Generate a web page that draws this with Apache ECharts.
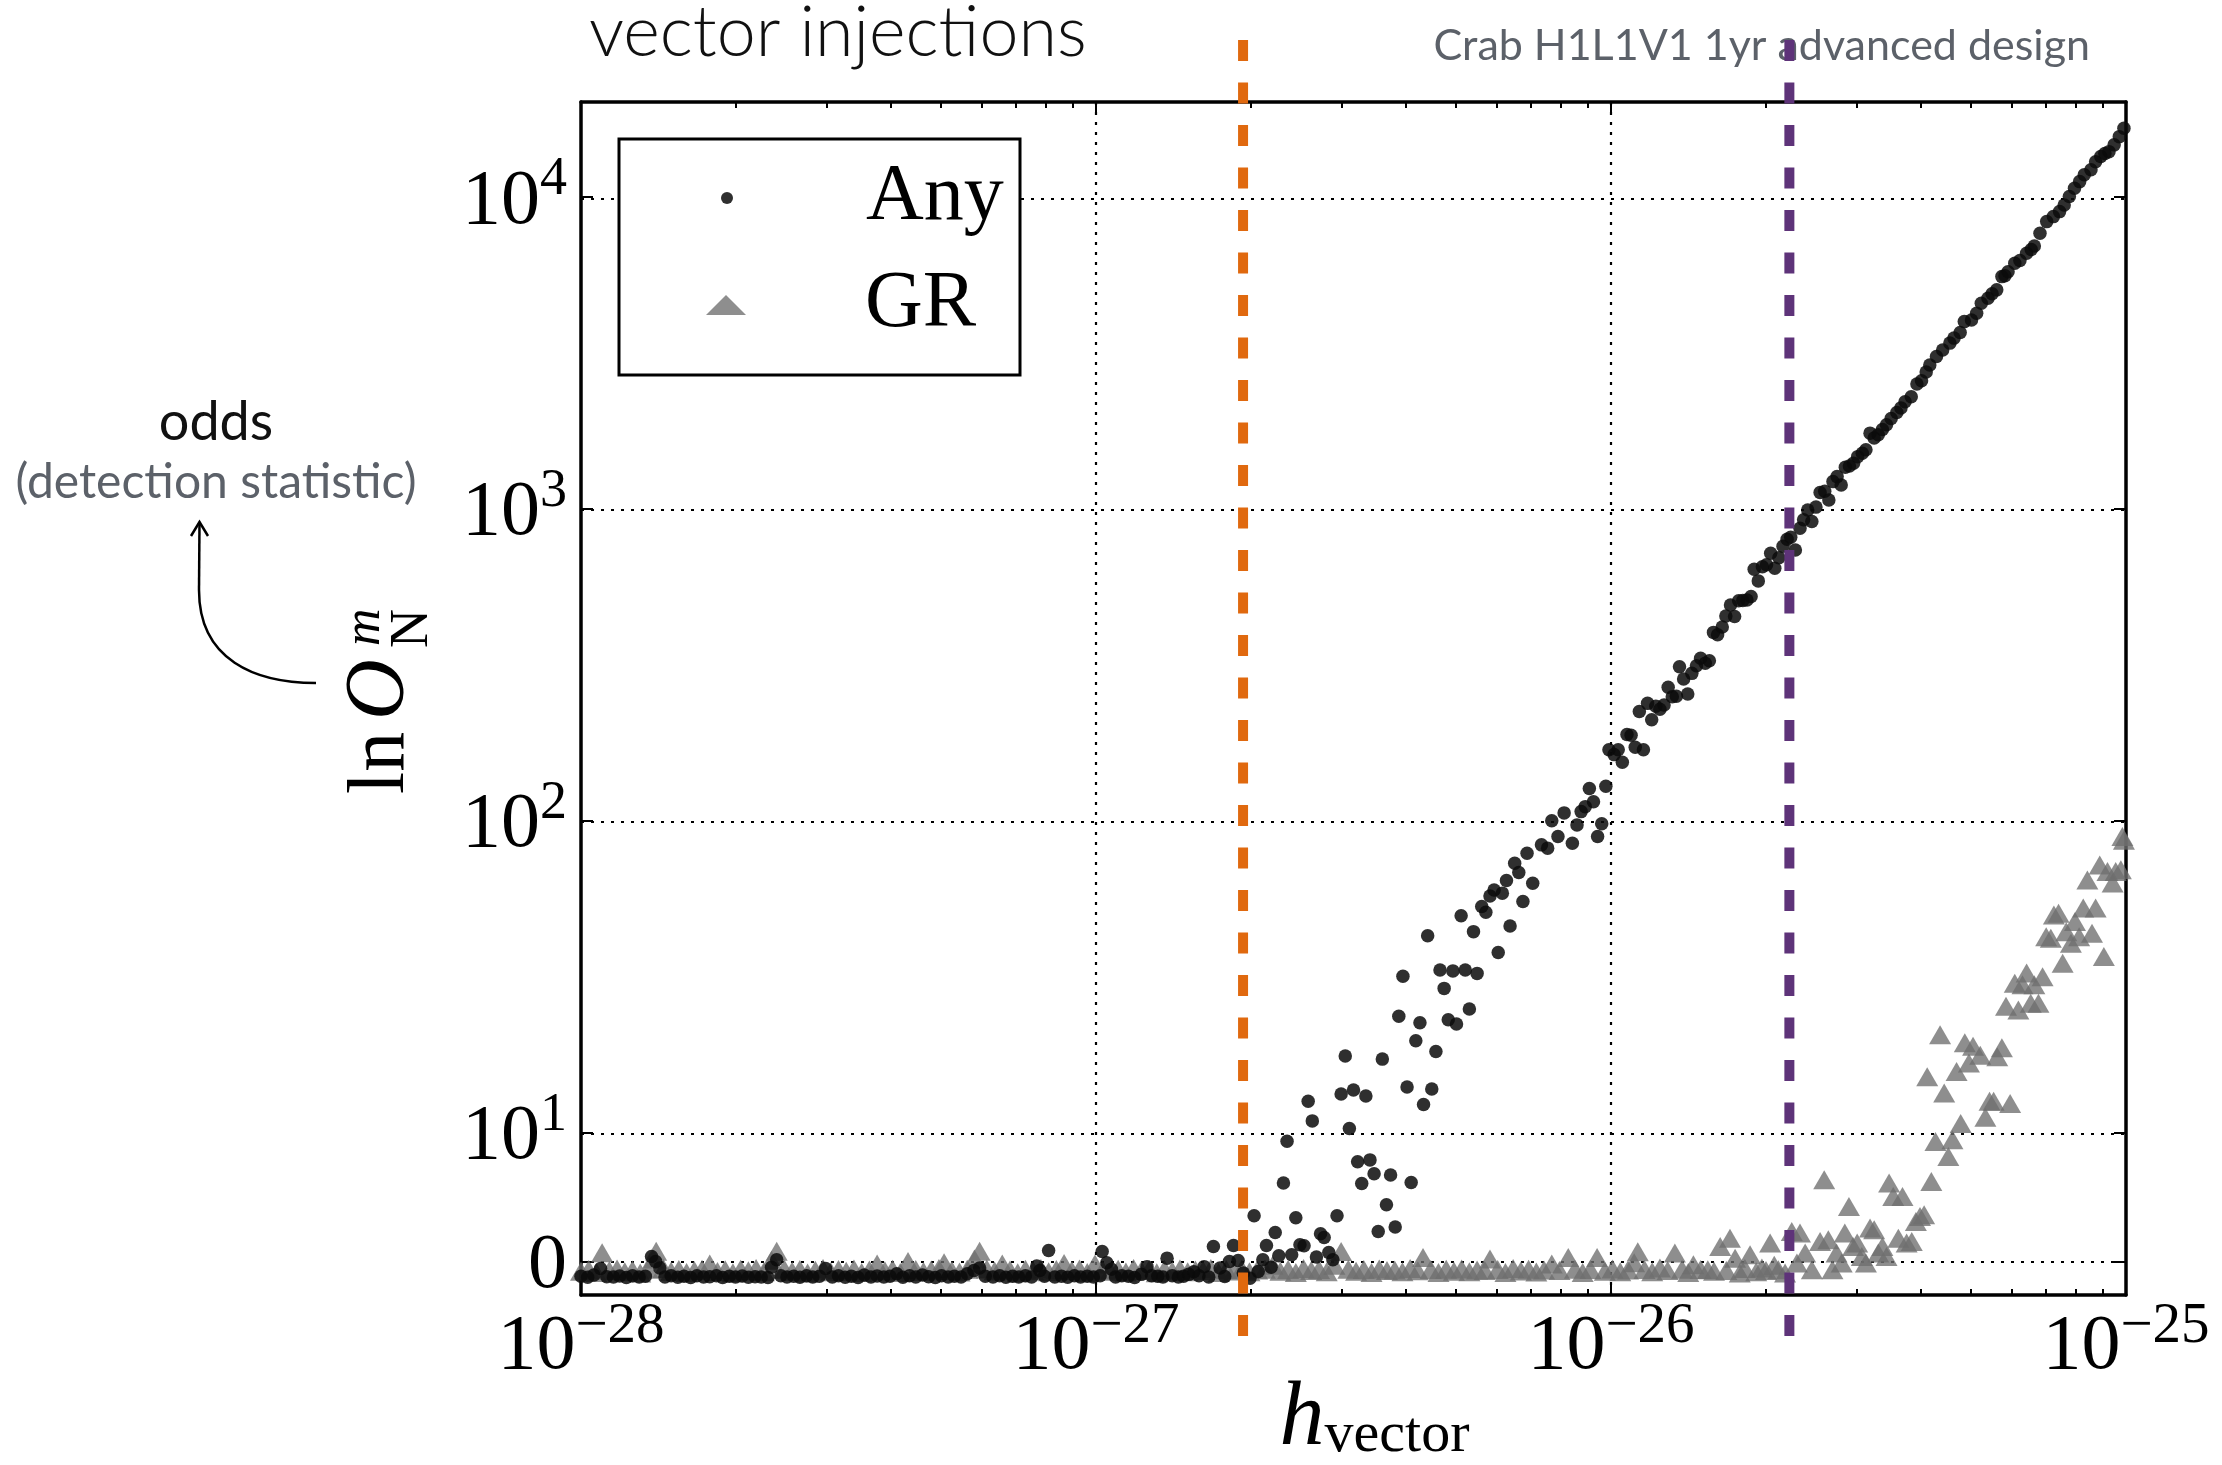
<!DOCTYPE html>
<html>
<head>
<meta charset="utf-8">
<title>vector injections</title>
<script src="https://cdn.jsdelivr.net/npm/echarts@6/dist/echarts.min.js"></script>
<style>
  html, body { margin: 0; padding: 0; background: #ffffff; }
  #chart { width: 2222px; height: 1465px; }
</style>
</head>
<body>
<div id="chart"></div>
<script>
// ---------------------------------------------------------------------------
// Data: each injection is [log10 h_vector, ln O_N^m]
// ---------------------------------------------------------------------------
const anyInjections = [
  [-28.000,-1.15],[-27.987,-1.22],[-27.975,-1.05],[-27.962,-0.55],[-27.950,-1.18],[-27.937,-1.20],
  [-27.925,-1.12],[-27.912,-1.25],[-27.900,-1.10],[-27.887,-1.20],[-27.875,-1.15],[-27.863,0.39],
  [-27.855,0.00],[-27.847,-0.50],[-27.837,-1.20],[-27.825,-1.10],[-27.812,-1.22],[-27.800,-1.15],
  [-27.787,-1.25],[-27.775,-1.10],[-27.762,-1.20],[-27.750,-1.18],[-27.737,-1.10],[-27.725,-1.25],
  [-27.712,-1.15],[-27.700,-1.20],[-27.687,-1.12],[-27.675,-1.22],[-27.662,-1.18],[-27.650,-1.20],
  [-27.637,-1.25],[-27.630,-0.45],[-27.620,0.13],[-27.612,-1.10],[-27.600,-1.20],[-27.587,-1.15],
  [-27.575,-1.22],[-27.562,-1.10],[-27.550,-1.20],[-27.537,-1.15],[-27.525,-0.55],[-27.512,-1.20],
  [-27.500,-1.10],[-27.487,-1.22],[-27.475,-1.15],[-27.462,-1.25],[-27.450,-1.05],[-27.437,-1.20],
  [-27.425,-1.12],[-27.412,-1.20],[-27.400,-1.15],[-27.387,-0.95],[-27.375,-1.22],[-27.362,-1.10],
  [-27.350,-1.20],[-27.337,-1.05],[-27.325,-1.18],[-27.312,-1.25],[-27.300,-1.10],[-27.287,-1.20],
  [-27.275,-1.15],[-27.262,-1.20],[-27.250,-0.95],[-27.237,-0.70],[-27.226,-0.50],[-27.215,-1.15],
  [-27.200,-1.20],[-27.187,-1.10],[-27.175,-1.22],[-27.162,-1.15],[-27.150,-1.20],[-27.137,-1.10],
  [-27.125,-1.20],[-27.115,-0.35],[-27.109,-0.70],[-27.100,-1.15],[-27.092,0.85],[-27.080,-1.20],
  [-27.067,-1.15],[-27.055,-1.22],[-27.042,-1.10],[-27.030,-1.20],[-27.017,-1.15],[-27.005,-1.20],
  [-26.992,-1.10],[-26.988,0.78],[-26.979,-0.10],[-26.970,-0.60],[-26.962,-1.20],[-26.950,-1.10],
  [-26.937,-1.15],[-26.925,-1.25],[-26.912,-1.00],[-26.901,-0.40],[-26.892,-1.10],[-26.880,-1.15],
  [-26.870,-1.20],[-26.862,0.26],[-26.852,-1.10],[-26.840,-1.20],[-26.830,-1.15],[-26.820,-1.00],
  [-26.810,-0.80],[-26.800,-1.10],[-26.790,-0.40],[-26.781,-1.20],[-26.772,1.16],[-26.759,-0.50],
  [-26.750,-1.16],[-26.741,0.00],[-26.733,1.24],[-26.724,0.08],[-26.714,-0.90],[-26.701,-1.30],
  [-26.693,3.54],[-26.685,-0.77],[-26.676,0.13],[-26.669,1.24],[-26.660,-0.44],[-26.652,2.25],
  [-26.645,0.44],[-26.636,6.08],[-26.629,9.33],[-26.620,0.52],[-26.612,3.39],[-26.604,1.29],
  [-26.596,1.22],[-26.588,12.6],[-26.580,10.9],[-26.572,0.34],[-26.564,2.15],[-26.557,1.86],
  [-26.548,0.70],[-26.540,0.13],[-26.532,3.54],[-26.524,13.3],[-26.516,17.6],[-26.508,10.3],
  [-26.500,13.7],[-26.492,7.73],[-26.484,6.05],[-26.476,13.1],[-26.468,7.88],[-26.460,6.80],
  [-26.452,2.33],[-26.444,17.2],[-26.436,4.40],[-26.428,6.70],[-26.419,2.67],[-26.412,23.6],
  [-26.404,31.7],[-26.396,14.0],[-26.388,6.12],[-26.379,19.7],[-26.371,22.5],[-26.364,12.3],
  [-26.356,42.8],[-26.348,13.8],[-26.340,18.2],[-26.332,33.2],[-26.324,29.0],[-26.316,23.0],
  [-26.307,33.0],[-26.300,22.3],[-26.291,49.6],[-26.283,33.2],[-26.275,24.9],[-26.267,44.1],
  [-26.260,32.4],[-26.251,53.1],[-26.243,50.9],[-26.235,57.4],[-26.227,60.0],[-26.219,37.8],
  [-26.211,58.6],[-26.203,64.3],[-26.196,46.0],[-26.187,73.1],[-26.179,68.2],[-26.171,55.1],
  [-26.163,78.7],[-26.152,63.0],[-26.135,83.7],[-26.123,81.7],[-26.115,100],[-26.103,89.0],
  [-26.091,106],[-26.075,84.7],[-26.066,97.0],[-26.058,107],[-26.050,111],[-26.042,127],
  [-26.034,115],[-26.026,89.0],[-26.018,97.8],[-26.010,129],[-26.004,169],[-25.994,163],
  [-25.986,169],[-25.978,154],[-25.969,189],[-25.961,188],[-25.953,172],[-25.945,224],
  [-25.937,169],[-25.929,238],[-25.921,211],[-25.913,233],[-25.905,228],[-25.897,235],
  [-25.889,268],[-25.881,250],[-25.873,251],[-25.867,312],[-25.859,285],[-25.851,255],
  [-25.843,297],[-25.834,314],[-25.826,332],[-25.817,320],[-25.809,326],[-25.801,402],
  [-25.793,395],[-25.784,418],[-25.777,454],[-25.768,492],[-25.760,452],[-25.752,508],
  [-25.744,509],[-25.736,511],[-25.728,524],[-25.722,641],[-25.714,588],[-25.706,653],
  [-25.698,662],[-25.690,721],[-25.682,646],[-25.674,698],[-25.666,760],[-25.658,800],
  [-25.651,812],[-25.642,739],[-25.633,867],[-25.626,923],[-25.618,993],[-25.610,912],
  [-25.602,1014],[-25.594,1130],[-25.585,1140],[-25.577,1069],[-25.569,1224],[-25.561,1270],
  [-25.553,1194],[-25.545,1361],[-25.537,1374],[-25.529,1403],[-25.521,1472],[-25.512,1510],
  [-25.505,1548],[-25.497,1751],[-25.489,1690],[-25.481,1729],[-25.473,1800],[-25.465,1862],
  [-25.456,1950],[-25.445,2039],[-25.437,2110],[-25.429,2209],[-25.417,2292],[-25.406,2518],
  [-25.397,2580],[-25.388,2750],[-25.381,2897],[-25.368,3082],[-25.356,3236],[-25.342,3404],
  [-25.334,3532],[-25.322,3681],[-25.314,3990],[-25.300,4040],[-25.290,4246],[-25.281,4571],
  [-25.268,4742],[-25.260,4900],[-25.251,5044],[-25.241,5563],[-25.235,5600],[-25.229,5768],
  [-25.216,6138],[-25.206,6266],[-25.193,6611],[-25.184,6800],[-25.178,6977],[-25.167,7661],
  [-25.154,8350],[-25.141,8665],[-25.129,8991],[-25.120,9444],[-25.110,10045],[-25.100,10690],
  [-25.090,11220],[-25.081,11800],[-25.068,12240],[-25.059,13000],[-25.049,13500],[-25.041,13800],
  [-25.033,14000],[-25.023,14720],[-25.013,15640],[-25.004,16640]
];

const grInjections = [
  [-28.000,-0.75],[-27.985,-0.62],[-27.970,-0.85],[-27.959,0.67],[-27.945,-0.70],[-27.930,-0.58],
  [-27.915,-0.80],[-27.900,-0.66],[-27.885,-0.90],[-27.870,-0.60],[-27.860,0.20],[-27.854,0.80],
  [-27.840,-0.55],[-27.825,-0.75],[-27.810,-0.62],[-27.795,-0.85],[-27.780,-0.70],[-27.765,-0.60],
  [-27.750,-0.20],[-27.735,-0.78],[-27.720,-0.65],[-27.705,-0.88],[-27.690,-0.60],[-27.675,-0.72],
  [-27.660,-0.55],[-27.645,-0.80],[-27.630,0.10],[-27.620,0.80],[-27.605,-0.60],[-27.590,-0.75],
  [-27.575,-0.62],[-27.560,-0.90],[-27.545,-0.68],[-27.530,-0.55],[-27.515,-0.80],[-27.500,-0.62],
  [-27.485,-0.75],[-27.470,-0.58],[-27.455,-0.85],[-27.440,-0.66],[-27.425,-0.20],[-27.410,-0.72],
  [-27.395,-0.60],[-27.380,-0.85],[-27.365,0.00],[-27.350,-0.62],[-27.335,-0.78],[-27.320,-0.66],
  [-27.305,-0.55],[-27.295,-0.10],[-27.280,-0.70],[-27.265,-0.82],[-27.250,-0.60],[-27.236,0.20],
  [-27.226,0.80],[-27.212,-0.58],[-27.197,-0.74],[-27.182,-0.20],[-27.167,-0.66],[-27.152,-0.88],
  [-27.137,-0.60],[-27.122,-0.72],[-27.107,-0.55],[-27.092,-0.80],[-27.077,-0.62],[-27.062,-0.15],
  [-27.047,-0.70],[-27.032,-0.58],[-27.017,-0.85],[-27.002,-0.20],[-26.987,-0.66],[-26.972,-0.75],
  [-26.957,-0.60],[-26.942,-0.82],[-26.927,-0.55],[-26.912,-0.70],[-26.897,-0.62],[-26.882,-0.88],
  [-26.867,-0.60],[-26.852,-0.74],[-26.837,-0.58],[-26.822,-0.80],[-26.807,-0.66],[-26.792,-0.70],
  [-26.777,-0.55],[-26.762,-0.85],[-26.747,-0.62],[-26.732,-0.74],[-26.717,-0.58],[-26.702,-0.80],
  [-26.687,-0.66],[-26.672,-0.60],[-26.657,-0.30],[-26.642,-0.75],[-26.627,-0.62],[-26.612,-0.85],
  [-26.597,-0.55],[-26.582,-0.70],[-26.567,-0.62],[-26.552,-0.80],[-26.537,-0.30],[-26.524,0.78],
  [-26.510,-0.60],[-26.495,-0.75],[-26.480,-0.62],[-26.465,-0.85],[-26.450,-0.58],[-26.435,-0.70],
  [-26.420,-0.66],[-26.405,-0.80],[-26.390,-0.55],[-26.375,-0.72],[-26.365,0.30],[-26.350,-0.62],
  [-26.335,-0.85],[-26.320,-0.60],[-26.305,-0.75],[-26.290,-0.58],[-26.275,-0.80],[-26.260,-0.66],
  [-26.245,-0.70],[-26.235,0.20],[-26.220,-0.62],[-26.205,-0.85],[-26.190,-0.55],[-26.175,-0.74],
  [-26.160,-0.60],[-26.145,-0.82],[-26.130,-0.66],[-26.115,-0.20],[-26.100,-0.70],[-26.083,0.30],
  [-26.070,-0.60],[-26.055,-0.85],[-26.040,-0.62],[-26.027,0.30],[-26.012,-0.75],[-25.997,-0.58],
  [-25.982,-0.80],[-25.967,-0.66],[-25.955,-0.10],[-25.948,0.75],[-25.935,-0.62],[-25.920,-0.80],
  [-25.905,-0.50],[-25.890,-0.70],[-25.876,0.65],[-25.862,-0.60],[-25.850,-0.85],[-25.840,-0.26],
  [-25.826,-0.62],[-25.812,-0.64],[-25.800,-0.75],[-25.788,1.16],[-25.776,-0.70],[-25.769,1.80],
  [-25.759,0.26],[-25.750,-0.90],[-25.740,-0.55],[-25.730,0.52],[-25.718,-0.80],[-25.707,-0.50],
  [-25.699,-0.70],[-25.691,1.43],[-25.683,-0.30],[-25.675,-0.64],[-25.662,-0.90],[-25.649,2.33],
  [-25.639,-0.12],[-25.633,2.20],[-25.623,0.65],[-25.610,-0.64],[-25.594,1.55],[-25.586,6.33],
  [-25.578,1.68],[-25.570,-0.64],[-25.562,0.65],[-25.552,-0.12],[-25.546,2.20],[-25.538,4.26],
  [-25.530,1.16],[-25.522,1.43],[-25.513,0.39],[-25.505,-0.12],[-25.497,2.59],[-25.489,2.46],
  [-25.481,0.65],[-25.473,1.16],[-25.465,0.39],[-25.460,6.08],[-25.452,5.04],[-25.442,1.81],
  [-25.434,5.04],[-25.426,1.43],[-25.416,1.55],[-25.408,3.10],[-25.400,3.49],[-25.392,3.62],
  [-25.386,15.1],[-25.378,6.20],[-25.370,9.30],[-25.361,20.6],[-25.353,13.4],[-25.345,8.14],
  [-25.337,9.44],[-25.329,15.7],[-25.321,10.7],[-25.313,19.4],[-25.305,16.7],[-25.297,18.9],
  [-25.283,17.7],[-25.273,11.2],[-25.265,12.6],[-25.257,12.6],[-25.250,17.5],[-25.241,18.7],
  [-25.233,25.4],[-25.225,12.4],[-25.216,30.1],[-25.209,24.7],[-25.201,29.8],[-25.193,32.5],
  [-25.185,26.0],[-25.178,29.8],[-25.170,26.0],[-25.162,31.6],[-25.155,42.5],[-25.146,42.0],
  [-25.140,49.9],[-25.131,50.5],[-25.123,34.9],[-25.116,44.1],[-25.107,40.5],[-25.099,47.5],
  [-25.091,42.5],[-25.083,52.5],[-25.075,64.6],[-25.066,43.6],[-25.059,52.5],[-25.051,72.2],
  [-25.043,36.7],[-25.036,68.7],[-25.026,63.1],[-25.020,68.7],[-25.010,69.6],[-25.007,89.0],
  [-25.004,86.6]
];

// Axis ranges and tick values
const hRange = [1e-28, 1e-25];
const oddsRange = [-2.6, 2.02e4];
const hTicks = [1e-28, 1e-27, 1e-26, 1e-25];
const oddsTicks = [0, 10, 100, 1000, 10000];

// Vertical reference amplitudes (orange, purple)
const referenceH = [1.93e-27, 2.22e-26];

// ---------------------------------------------------------------------------
// Axis mappings: x is drawn in log10(h); odds use a symmetric log
// (linear on [-10, 10], log10 beyond)
// ---------------------------------------------------------------------------
const LIN_DECADES = 0.4135;
function symlog(v) {
  const a = Math.abs(v), s = v < 0 ? -1 : 1;
  return a <= 10 ? (v / 10) * LIN_DECADES : s * (LIN_DECADES + Math.log10(a / 10));
}
const lg = Math.log10;

const SERIF = '"Liberation Serif", "DejaVu Serif", serif';
const SANS = 'Lato, "Open Sans", sans-serif';

const xMin = lg(hRange[0]), xMax = lg(hRange[1]);
const minorX = [];
hTicks.slice(0, -1).forEach(d => { for (let m = 2; m <= 9; m++) minorX.push(lg(m * d)); });

const oddsTickPos = oddsTicks.map(symlog);
const tMin = symlog(oddsRange[0]);
const tMax = symlog(oddsRange[1]);

const labelRich = {
  b: { fontFamily: SERIF, fontSize: 78, lineHeight: 88, verticalAlign: 'bottom', color: '#000' },
  s: { fontFamily: SERIF, fontSize: 54, lineHeight: 44, verticalAlign: 'top', color: '#000' },
  n: { fontFamily: SERIF, fontSize: 57, lineHeight: 44, verticalAlign: 'top', color: '#000' }
};

function hLabel(x) {
  const e = Math.round(x);
  return '{b|10}{n|' + (e < 0 ? '\u2212' + (-e) : String(e)) + '}';
}
function oddsLabel(t) {
  let best = 0;
  oddsTickPos.forEach((p, i) => { if (Math.abs(p - t) < Math.abs(oddsTickPos[best] - t)) best = i; });
  const v = oddsTicks[best];
  return v === 0 ? '{b|0}' : '{b|10}{s|' + Math.round(lg(v)) + '}';
}

const frameLine = { show: true, onZero: false, lineStyle: { color: '#000', width: 3.5 } };
const majorTick = { show: true, inside: true, length: 12, lineStyle: { color: '#000', width: 2 } };
const minorTickStyle = { show: true, inside: true, length: 6, lineStyle: { color: '#000', width: 2 } };
const gridDots = { color: '#000', width: 2.2, type: [3, 7] };

// vertical extent of the reference lines (they run past the frame)
const T_LINE_TOP = 3.918, T_LINE_BOTTOM = -0.2415;

function refLine(name, h, color) {
  return {
    name: name, type: 'line', xAxisIndex: 0, yAxisIndex: 0, clip: false, silent: true,
    symbol: 'none', z: 6,
    lineStyle: { color: color, width: 10, type: [21, 21.5] },
    data: [[lg(h), T_LINE_TOP], [lg(h), T_LINE_BOTTOM]]
  };
}

const chart = echarts.init(document.getElementById('chart'), null, { renderer: 'canvas' });

chart.setOption({
  animation: false,
  backgroundColor: '#ffffff',
  textStyle: { fontFamily: SERIF },
  title: {
    text: 'vector injections',
    left: 589, top: -2, padding: 0,
    textStyle: { fontFamily: SANS, fontSize: 70, fontWeight: 300, color: '#111', lineHeight: 70 }
  },
  grid: { left: 581, right: 96, top: 102, bottom: 170, containLabel: false, outerBoundsMode: 'none' },
  legend: [
    {
      data: ['Any'], left: 721, top: 151, orient: 'vertical', padding: 0, itemGap: 0,
      itemWidth: 40, itemHeight: 12, icon: 'circle', selectedMode: false, z: 10,
      textStyle: { fontFamily: SERIF, fontSize: 80, color: '#000', lineHeight: 80, padding: [14, 0, 0, 114] }
    },
    {
      data: ['GR'], left: 706, top: 261, orient: 'vertical', padding: 0, itemGap: 0,
      itemWidth: 40, itemHeight: 20, icon: 'triangle', selectedMode: false, z: 10,
      textStyle: { fontFamily: SERIF, fontSize: 80, color: '#000', lineHeight: 80, padding: [8, 0, 0, 114] }
    }
  ],
  xAxis: [
    {
      type: 'value', min: xMin, max: xMax, interval: 1, position: 'bottom',
      axisLine: frameLine, axisTick: majorTick,
      axisLabel: { formatter: hLabel, margin: 4, rich: labelRich },
      splitLine: { show: false },
      name: '{h|h}{v|vector}', nameLocation: 'middle', nameGap: 80, nameMoveOverlap: false,
      nameTextStyle: {
        padding: [0, 0, 0, 42],
        rich: {
          h: { fontFamily: SERIF, fontStyle: 'italic', fontSize: 90, lineHeight: 90, verticalAlign: 'bottom', color: '#000' },
          v: { fontFamily: SERIF, fontSize: 58, lineHeight: 46, verticalAlign: 'bottom', color: '#000' }
        }
      }
    },
    {
      type: 'value', min: xMin, max: xMax, interval: 1, position: 'top',
      axisLine: frameLine, axisTick: majorTick,
      axisLabel: { show: false }, splitLine: { show: false }
    },
    {
      type: 'value', min: xMin, max: xMax, position: 'bottom',
      axisLine: { show: false, onZero: false },
      axisTick: Object.assign({ customValues: minorX }, minorTickStyle),
      axisLabel: { show: false }, splitLine: { show: false }
    },
    {
      type: 'value', min: xMin, max: xMax, position: 'top',
      axisLine: { show: false, onZero: false },
      axisTick: Object.assign({ customValues: minorX }, minorTickStyle),
      axisLabel: { show: false }, splitLine: { show: false }
    }
  ],
  yAxis: [
    {
      type: 'value', min: tMin, max: tMax, position: 'left',
      axisLine: frameLine,
      axisTick: Object.assign({ customValues: oddsTickPos }, majorTick),
      axisLabel: { customValues: oddsTickPos, formatter: oddsLabel, margin: 14, rich: labelRich },
      splitLine: { show: false }
    },
    {
      type: 'value', min: tMin, max: tMax, position: 'right',
      axisLine: frameLine,
      axisTick: Object.assign({ customValues: oddsTickPos }, majorTick),
      axisLabel: { show: false }, splitLine: { show: false }
    }
  ],
  series: [
    {
      name: 'GR', type: 'scatter', xAxisIndex: 0, yAxisIndex: 0,
      symbol: 'triangle', symbolSize: [22, 19], z: 3, silent: true,
      itemStyle: { color: '#6e6e6e', opacity: 0.78 },
      data: grInjections.map(([lh, o]) => [lh, symlog(o)]),
      markLine: {
        z: 1, silent: true, symbol: 'none', animation: false,
        label: { show: false }, lineStyle: gridDots, emphasis: { disabled: true },
        data: oddsTicks.map(v => ({ yAxis: symlog(v) }))
          .concat(hTicks.slice(1, -1).map(h => ({ xAxis: lg(h) })))
      }
    },
    {
      name: 'Any', type: 'scatter', xAxisIndex: 0, yAxisIndex: 0,
      symbol: 'circle', symbolSize: 13.5, z: 4, silent: true,
      itemStyle: { color: '#0a0a0a', opacity: 0.85 },
      data: anyInjections.map(([lh, o]) => [lh, symlog(o)])
    },
    refLine('threshold', referenceH[0], '#e0690f'),
    refLine('design', referenceH[1], '#5e3379')
  ],
  graphic: [
    // legend frame
    { type: 'rect', z: 2, shape: { x: 619, y: 139, width: 401, height: 236 },
      style: { fill: '#ffffff', stroke: '#000', lineWidth: 3 }, silent: true },
    // rotated y-axis title: ln O_N^m
    { type: 'group', x: 409, y: 794, rotation: Math.PI / 2, silent: true, children: [
      { type: 'text', x: 0, y: -27, style: { text: 'ln', fontFamily: SERIF, fontSize: 80, fill: '#000', verticalAlign: 'middle' } },
      { type: 'text', x: 74, y: -28, style: { text: 'O', fontFamily: SERIF, fontStyle: 'italic', fontSize: 84, fill: '#000', verticalAlign: 'middle' } },
      { type: 'text', x: 148, y: -44, style: { text: 'm', fontFamily: SERIF, fontStyle: 'italic', fontSize: 52, fill: '#000', verticalAlign: 'middle' } },
      { type: 'text', x: 146, y: 4, style: { text: 'N', fontFamily: SERIF, fontSize: 54, fill: '#000', verticalAlign: 'middle' } }
    ] },
    // annotation: odds (detection statistic) with curved arrow
    { type: 'text', x: 216, y: 423, silent: true,
      style: { text: 'odds', fontFamily: SANS, fontSize: 54, fill: '#111', align: 'center', verticalAlign: 'middle' } },
    { type: 'text', x: 216, y: 483, silent: true,
      style: { text: '(detection statistic)', fontFamily: SANS, fontSize: 48, fill: '#5c6169', align: 'center', verticalAlign: 'middle' } },
    { type: 'bezierCurve', silent: true,
      shape: { x1: 316, y1: 683, cpx1: 255, cpy1: 683, cpx2: 199, cpy2: 660, x2: 199, y2: 590 },
      style: { stroke: '#000', lineWidth: 2.5, fill: null } },
    { type: 'line', silent: true, shape: { x1: 199, y1: 590, x2: 199.5, y2: 523 },
      style: { stroke: '#000', lineWidth: 2.5 } },
    { type: 'polyline', silent: true, shape: { points: [[191, 536], [199.5, 522], [208, 536]] },
      style: { stroke: '#000', lineWidth: 2.5, fill: null } },
    // configuration note
    { type: 'text', x: 2090, y: 46, silent: true,
      style: { text: 'Crab H1L1V1 1yr advanced design', fontFamily: SANS, fontSize: 43, fill: '#5c6169', align: 'right', verticalAlign: 'middle' } }
  ]
});
</script>
</body>
</html>
